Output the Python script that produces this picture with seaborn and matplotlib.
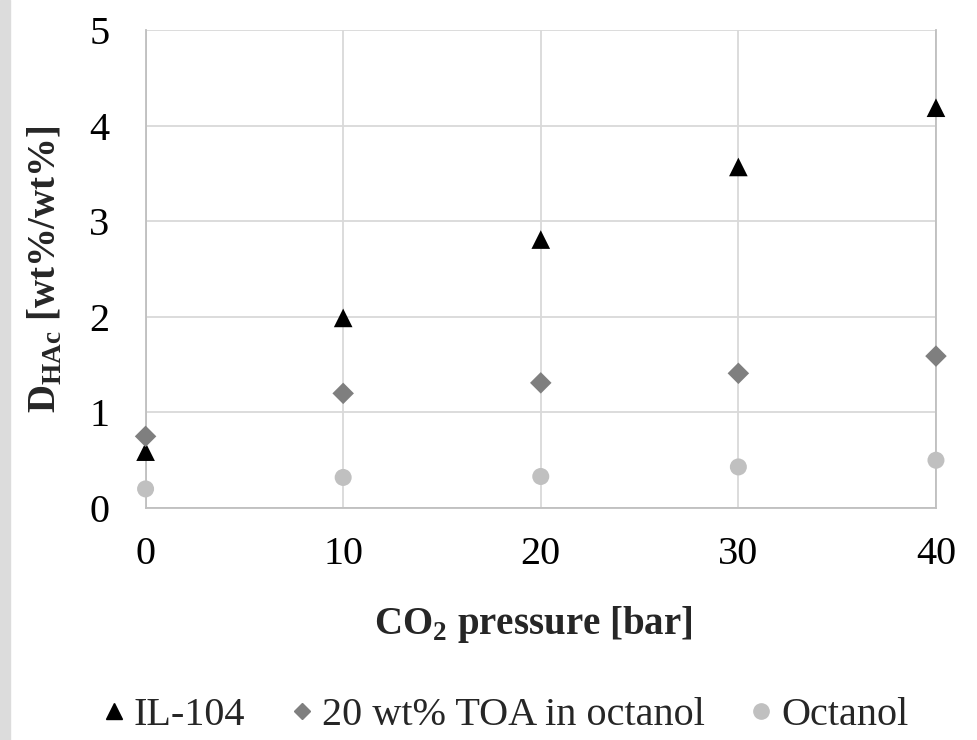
import pandas as pd
import seaborn as sns
import matplotlib.pyplot as plt
from matplotlib.lines import Line2D
from matplotlib.patches import Rectangle

# data
pressure = [0, 10, 20, 30, 40]
il104 = [0.59, 1.99, 2.81, 3.57, 4.19]
toa = [0.75, 1.20, 1.31, 1.41, 1.59]
octanol = [0.20, 0.32, 0.33, 0.43, 0.50]
series_names = ['IL-104', '20 wt% TOA in octanol', 'Octanol']
series_colors = ['#000000', '#7f7f7f', '#c0c0c0']
series_markers = ['^', 'D', 'o']

rows = []
for name, vals in zip(series_names, [il104, toa, octanol]):
    for p, v in zip(pressure, vals):
        rows.append({'pressure': p, 'D': v, 'series': name})
df = pd.DataFrame(rows)

sns.set_style('whitegrid', {'grid.color': '#d9d9d9', 'axes.edgecolor': '#bfbfbf'})
plt.rcParams['font.family'] = ['Liberation Serif', 'DejaVu Serif']
plt.rcParams['mathtext.fontset'] = 'custom'
plt.rcParams['mathtext.rm'] = 'Liberation Serif'
plt.rcParams['mathtext.bf'] = 'Liberation Serif:bold'

fig = plt.figure(figsize=(9.77, 7.4), dpi=100)
ax = fig.add_axes([0.149, 0.3135, 0.809, 0.6455])
fig.patches.append(Rectangle((0, 0), 10 / 977, 1, transform=fig.transFigure,
                             color='#dcdcdc', zorder=0))

palette = dict(zip(series_names, series_colors))
markers = dict(zip(series_names, series_markers))
sizes = {'IL-104': 180, '20 wt% TOA in octanol': 120, 'Octanol': 150}
for name in series_names:
    sub = df[df['series'] == name]
    sns.scatterplot(data=sub, x='pressure', y='D', color=palette[name],
                    marker=markers[name], s=sizes[name], edgecolor='none',
                    ax=ax, zorder=3, clip_on=False, legend=False)

ax.set_xlim(0, 40)
ax.set_ylim(0, 5)
ax.set_xticks(pressure)
ax.set_yticks(range(0, 6))
ax.grid(True, color='#d9d9d9', linewidth=1.3)
for side, s in ax.spines.items():
    s.set_visible(side in ('left', 'bottom', 'right'))
    s.set_color('#bfbfbf')
    s.set_linewidth(1.3)
ax.tick_params(axis='both', length=0, labelsize=29, colors='black')
ax.tick_params(axis='y', pad=26)
ax.tick_params(axis='x', pad=20)

ax.set_xlabel(r'CO$_\mathbf{2}$ pressure [bar]', fontsize=28, fontweight='bold')
ax.xaxis.set_label_coords(0.49, -0.2)
ax.set_ylabel(r'D$_\mathbf{HAc}$ [wt%/wt%]', fontsize=28, fontweight='bold', labelpad=18)

handles = [Line2D([], [], linestyle='none', marker=m, color=c, markersize=ms)
           for m, c, ms in zip(series_markers, series_colors, [11, 8.5, 11])]
fig.legend(handles, series_names, loc='center', bbox_to_anchor=(0.517, 0.033),
           ncol=3, frameon=False, fontsize=29, handletextpad=0.2,
           columnspacing=1.1, handlelength=0.6, borderpad=0)

fig.savefig('out.png', dpi=100)
